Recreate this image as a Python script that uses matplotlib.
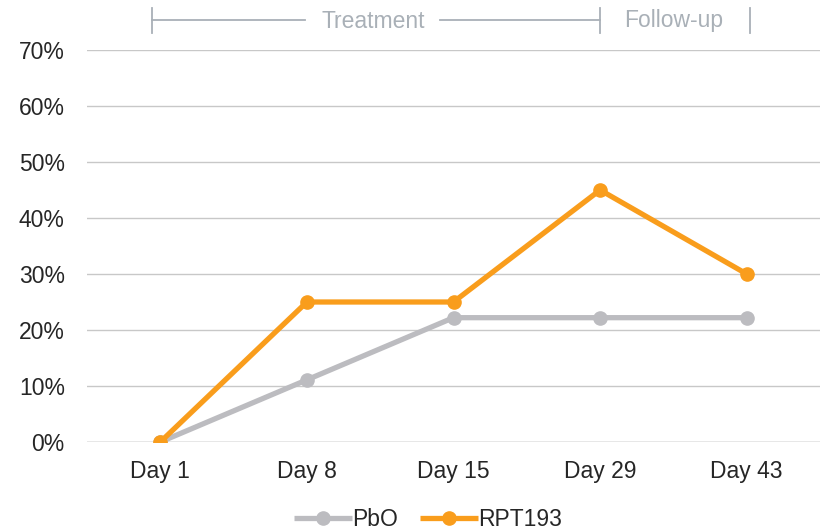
import matplotlib.pyplot as plt
from matplotlib.lines import Line2D
import matplotlib.transforms as mtransforms

plt.rcParams['font.family'] = ['Liberation Sans', 'DejaVu Sans']

days = ['Day 1', 'Day 8', 'Day 15', 'Day 29', 'Day 43']
pbo = [0, 11.1, 22.2, 22.2, 22.2]
rpt193 = [0, 25, 25, 45, 30]

grey = '#bcbcc0'
orange = '#f99d1c'
txt = '#262626'
ann = '#a9b0b7'
fs = 16.5

fig = plt.figure(figsize=(8.25, 5.32), dpi=100)
ax = fig.add_axes([87 / 825, (532 - 442) / 532, 733 / 825, 392 / 532])

x = list(range(len(days)))
ax.plot(x, pbo, color=grey, lw=3.8, marker='o', ms=9.5, solid_capstyle='butt', zorder=3, label='PbO')
ax.plot(x, rpt193, color=orange, lw=3.8, marker='o', ms=9.5, solid_capstyle='butt', zorder=4, label='RPT193')

ax.set_xlim(-0.5, len(days) - 0.5)
ax.set_ylim(0, 70)
ax.set_yticks(range(0, 71, 10))
ax.set_yticklabels([f'{v}%' for v in range(0, 71, 10)])
ax.set_xticks(x)
ax.set_xticklabels(days)
ax.tick_params(length=0, labelsize=fs, labelcolor=txt)
ax.tick_params(axis='y', pad=16)
ax.tick_params(axis='x', pad=13)
for s in ax.spines.values():
    s.set_visible(False)
for v in range(10, 71, 10):
    ax.axhline(v, color='#c8c8c8', lw=1, zorder=1)
ax.axhline(0, color='#e3e3e3', lw=1.2, zorder=1)

# phase brackets above the plot
tr = mtransforms.blended_transform_factory(ax.transData, fig.transFigure)
yb = 1 - 20 / 532
yt, ybot = 1 - 8 / 532, 1 - 33 / 532
kw = dict(color=ann, lw=1.3, transform=tr, clip_on=False)
for xv in [-0.06, 3.0, 4.02]:
    fig.add_artist(Line2D([xv, xv], [ybot, yt], **kw))
fig.add_artist(Line2D([-0.06, 0.99], [yb, yb], **kw))
fig.add_artist(Line2D([1.91, 3.0], [yb, yb], **kw))
fig.text(1.45, 1 - 21 / 532, 'Treatment', transform=tr, ha='center', va='center', fontsize=fs, color=ann)
fig.text(3.5, 1 - 21 / 532, 'Follow-up', transform=tr, ha='center', va='center', fontsize=fs, color=ann)

fig.legend(loc='center', bbox_to_anchor=(428 / 825, 1 - 520 / 532), ncol=2, frameon=False,
           fontsize=fs, handlelength=2.5, handletextpad=0.0, columnspacing=1.0, labelcolor=txt)

fig.savefig('out.png', dpi=100)
